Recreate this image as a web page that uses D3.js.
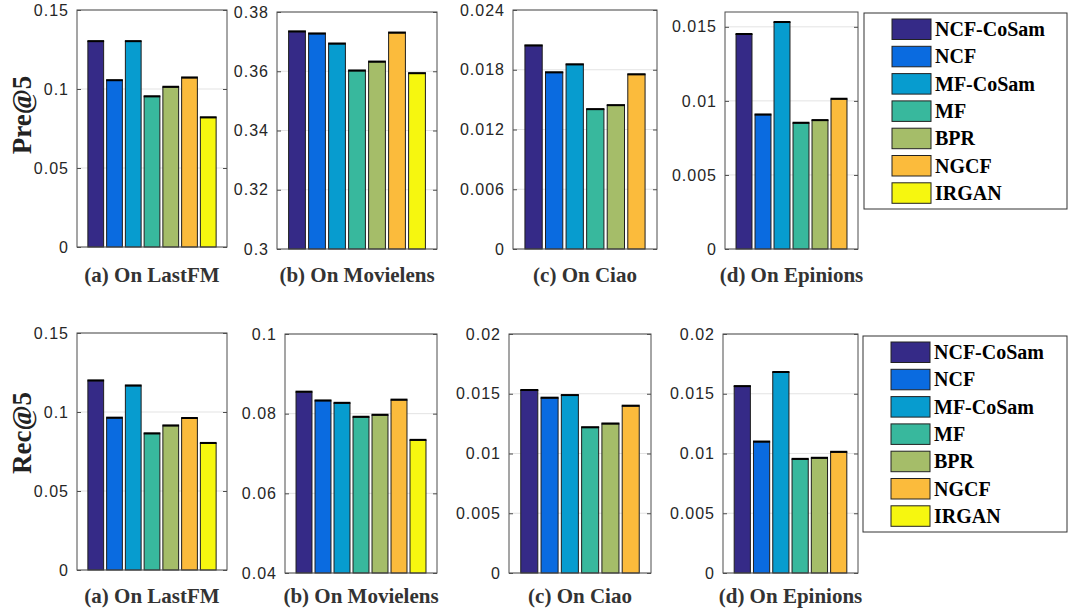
<!DOCTYPE html>
<html lang="en">
<head>
  <meta charset="UTF-8">
  <title>CoSam Pre@5 / Rec@5</title>
  <script src="https://d3js.org/d3.v7.min.js"></script>
  <style>
    * { margin: 0; padding: 0; box-sizing: border-box; }
    body { background: white; font-family: "Liberation Sans", Arial, sans-serif; }
    .tick-label { font-family: "Liberation Sans", Arial, sans-serif; font-size: 16px; fill: #262626; letter-spacing: 1px; }
    .sub { font-family: "Liberation Serif", "Times New Roman", serif; font-weight: bold; font-size: 21px; fill: #333; }
    .ylab { font-family: "Liberation Serif", "Times New Roman", serif; font-weight: bold; font-size: 27px; fill: #222; }
    .leg { font-family: "Liberation Serif", "Times New Roman", serif; font-weight: bold; font-size: 20px; fill: #000; }
  </style>
</head>
<body>
  <div id="chart"></div>
  <script>
    // methods and colours
    const methods = ["NCF-CoSam", "NCF", "MF-CoSam", "MF", "BPR", "NGCF", "IRGAN"];
    const colors  = ["#352a87", "#0a6be0", "#079ccf", "#38b89d", "#a5bd69", "#fbbb3c", "#f6f70f"];

    const datasets = ["(a) On LastFM", "(b) On Movielens", "(c) On Ciao", "(d) On Epinions"];

    // Pre@5 (IRGAN missing for Ciao / Epinions)
    const preLastFM    = [0.1300, 0.1053, 0.1300, 0.0951, 0.1011, 0.1070, 0.0818];
    const preMovielens = [0.3733, 0.3726, 0.3692, 0.3601, 0.3631, 0.3729, 0.3592];
    const preCiao      = [0.0204, 0.0177, 0.0185, 0.0140, 0.0144, 0.0175];
    const preEpinions  = [0.01448, 0.00905, 0.01529, 0.00849, 0.00867, 0.01011];

    // Rec@5
    const recLastFM    = [0.1197, 0.0961, 0.1165, 0.0862, 0.0912, 0.0959, 0.0801];
    const recMovielens = [0.0854, 0.0832, 0.0826, 0.0791, 0.0796, 0.0834, 0.0733];
    const recCiao      = [0.01527, 0.01463, 0.01485, 0.01216, 0.01247, 0.01396];
    const recEpinions  = [0.0156, 0.01096, 0.01678, 0.00951, 0.0096, 0.0101];

    // y axis ticks per panel
    const preTicks = [
      ["0", "0.05", "0.1", "0.15"],
      ["0.3", "0.32", "0.34", "0.36", "0.38"],
      ["0", "0.006", "0.012", "0.018", "0.024"],
      ["0", "0.005", "0.01", "0.015"]
    ];
    const recTicks = [
      ["0", "0.05", "0.1", "0.15"],
      ["0.04", "0.06", "0.08", "0.1"],
      ["0", "0.005", "0.01", "0.015", "0.02"],
      ["0", "0.005", "0.01", "0.015", "0.02"]
    ];
    const preDomains = [[0, 0.15], [0.3, 0.38], [0, 0.024], [0, 0.016]];
    const recDomains = [[0, 0.15], [0.04, 0.1], [0, 0.02], [0, 0.02]];

    const W = 1068, H = 612;
    const svg = d3.select("#chart").append("svg")
      .attr("width", W).attr("height", H);

    // panel boxes [x0, x1, y0, y1]
    const preBoxes = [[77, 227, 10, 247], [277, 437, 12, 249], [513, 657, 10, 249], [725, 858, 12, 249]];
    const recBoxes = [[77, 227, 333, 570], [285, 437, 334, 573], [509, 651, 334, 573], [723, 858, 334, 573]];

    function drawPanel(box, values, domain, ticks, title, subY) {
      const [x0, x1, y0, y1] = box;
      const g = svg.append("g");
      const n = values.length;

      const x = d3.scaleBand()
        .domain(methods.slice(0, n))
        .range([x0, x1])
        .paddingInner(0.16)
        .paddingOuter(0.58);
      const y = d3.scaleLinear().domain(domain).range([y1, y0]);

      // grid
      g.selectAll(".grid").data(ticks.map(Number)).enter()
        .append("line")
        .attr("x1", x0).attr("x2", x1)
        .attr("y1", d => y(d)).attr("y2", d => y(d))
        .attr("stroke", "#e3e3e3").attr("stroke-width", 1);

      // bars
      const data = values.map((v, i) => ({m: methods[i], v, c: colors[i]}));
      g.selectAll(".bar").data(data).enter()
        .append("rect")
        .attr("x", d => x(d.m))
        .attr("y", d => y(d.v))
        .attr("width", x.bandwidth())
        .attr("height", d => y(domain[0]) - y(d.v))
        .attr("fill", d => d.c)
        .attr("stroke", "#1f1f1f")
        .attr("stroke-width", 1);
      g.selectAll(".bartop").data(data).enter()
        .append("line")
        .attr("x1", d => x(d.m) - 0.5)
        .attr("x2", d => x(d.m) + x.bandwidth() + 0.5)
        .attr("y1", d => y(d.v) - 0.5)
        .attr("y2", d => y(d.v) - 0.5)
        .attr("stroke", "#000").attr("stroke-width", 2);

      // box
      g.append("rect")
        .attr("x", x0).attr("y", y0)
        .attr("width", x1 - x0).attr("height", y1 - y0)
        .attr("fill", "none").attr("stroke", "#4d4d4d").attr("stroke-width", 1);

      // inward ticks left and right
      const left = d3.axisLeft(y).tickValues(ticks.map(Number)).tickSize(-4).tickFormat((d, i) => ticks[i]).tickPadding(8);
      const la = g.append("g").attr("transform", `translate(${x0},0)`).call(left);
      la.select(".domain").remove();
      la.selectAll("line").attr("stroke", "#4d4d4d");
      la.selectAll("text").attr("class", "tick-label").attr("fill", null);

      const right = d3.axisRight(y).tickValues(ticks.map(Number)).tickSize(-4).tickFormat("");
      const ra = g.append("g").attr("transform", `translate(${x1},0)`).call(right);
      ra.select(".domain").remove();
      ra.selectAll("line").attr("stroke", "#4d4d4d");

      g.append("text")
        .attr("class", "sub")
        .attr("x", (x0 + x1) / 2)
        .attr("y", subY)
        .attr("text-anchor", "middle")
        .text(title);
    }

    const preValues = [preLastFM, preMovielens, preCiao, preEpinions];
    const recValues = [recLastFM, recMovielens, recCiao, recEpinions];

    preBoxes.forEach((b, i) => drawPanel(b, preValues[i], preDomains[i], preTicks[i], datasets[i], 282));
    recBoxes.forEach((b, i) => drawPanel(b, recValues[i], recDomains[i], recTicks[i], datasets[i], 603));

    // y labels
    svg.append("text").attr("class", "ylab")
      .attr("transform", "translate(31,115) rotate(-90)")
      .attr("text-anchor", "middle").text("Pre@5");
    svg.append("text").attr("class", "ylab")
      .attr("transform", "translate(31,433) rotate(-90)")
      .attr("text-anchor", "middle").text("Rec@5");

    // legends
    function drawLegend(lx, ly, lw, lh) {
      const g = svg.append("g");
      g.append("rect")
        .attr("x", lx).attr("y", ly).attr("width", lw).attr("height", lh)
        .attr("fill", "white").attr("stroke", "#333").attr("stroke-width", 1);
      const row = d3.scaleBand().domain(methods).range([ly + 6, ly + 6 + 27.3 * 7]);
      methods.forEach((m, i) => {
        g.append("rect")
          .attr("x", lx + 28).attr("y", row(m))
          .attr("width", 39).attr("height", 20.5)
          .attr("fill", colors[i]).attr("stroke", "#222").attr("stroke-width", 1);
        g.append("text").attr("class", "leg")
          .attr("x", lx + 71).attr("y", row(m) + 17)
          .text(m);
      });
    }
    drawLegend(864, 13, 203, 196);
    drawLegend(863, 336, 204, 196);
  </script>
</body>
</html>
